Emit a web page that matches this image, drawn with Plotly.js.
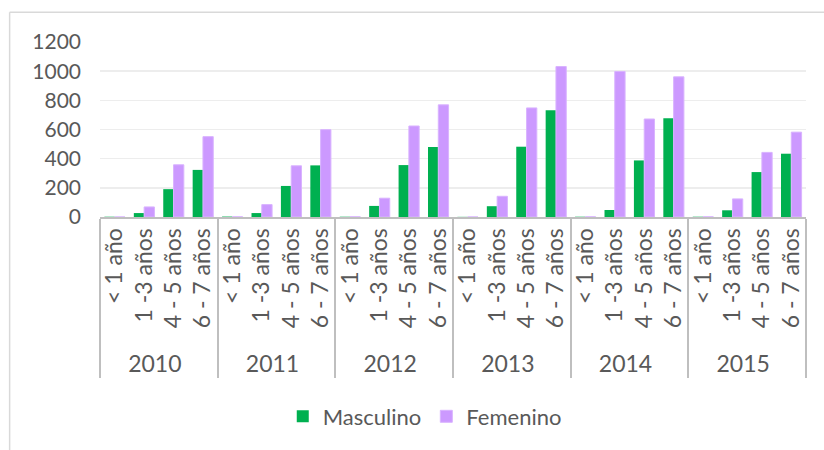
<!DOCTYPE html>
<html>
<head>
<meta charset="utf-8">
<script src="https://cdn.plot.ly/plotly-3.0.1.min.js"></script>
<style>
html,body{margin:0;padding:0;background:#fff;}
#chart{width:824px;height:450px;}
</style>
</head>
<body>
<div id="chart"></div>
<script>
const years = ["2010","2011","2012","2013","2014","2015"];
const ages = ["< 1 año","1 -3 años","4 - 5 años","6 - 7 años"];
const masculino = [
  2, 27, 191, 323,
  3, 27, 213, 354,
  2, 76, 356, 480,
  1, 74, 482, 732,
  2, 48, 388, 677,
  2, 46, 308, 434
];
const femenino = [
  0, 69, 358, 551,
  1, 85, 351, 599,
  1, 129, 624, 769,
  0, 142, 748, 1032,
  1, 998, 672, 961,
  1, 124, 443, 582
];

const xYears = [], xAges = [];
years.forEach(y => ages.forEach(a => { xYears.push(y); xAges.push(a); }));

const font = "Lato, 'Open Sans', sans-serif";
const traces = [
  {type:'bar', name:'Masculino', x:[xYears, xAges], y:masculino,
   marker:{color:'#00B050'}},
  {type:'bar', name:'Femenino', x:[xYears, xAges], y:femenino,
   marker:{color:'#CC99FF', line:{color:'#D9B3FF', width:1}}}
];
const layout = {
  width:824, height:450,
  margin:{l:100, r:18, t:42, b:233},
  paper_bgcolor:'#fff', plot_bgcolor:'#fff',
  barmode:'group', bargap:0.3, bargroupgap:0,
  font:{family:font, size:20, color:'#595959'},
  showlegend:true,
  legend:{orientation:'h', x:0.46, xanchor:'center', y:-1.14, yanchor:'middle',
    font:{family:font, size:22, color:'#595959'}, itemwidth:30},
  xaxis:{type:'multicategory', tickangle:-90, showline:true, linecolor:'#BFBFBF', linewidth:2,
    showdividers:true, dividercolor:'#BFBFBF', dividerwidth:2, ticks:'',
    tickfont:{family:font, size:23, color:'#595959'}, showgrid:false},
  yaxis:{range:[0,1200], dtick:200, showgrid:true, gridcolor:'#EDEDED', gridwidth:1.5,
    zeroline:false, showline:false, ticks:'', tickfont:{family:font, size:21, color:'#595959'},
    ticklabelstandoff:18},
  shapes:[
    {type:'line', xref:'paper', yref:'paper', x0:-0.128, x1:-0.128, y0:1.17, y1:-1.5,
     line:{color:'#D9D9D9', width:1.5}},
    {type:'line', xref:'paper', yref:'paper', x0:-0.128, x1:1.1, y0:1.17, y1:1.17,
     line:{color:'#D9D9D9', width:1.5}}
  ]
};
Plotly.newPlot('chart', traces, layout, {displayModeBar:false, staticPlot:true});
</script>
</body>
</html>
